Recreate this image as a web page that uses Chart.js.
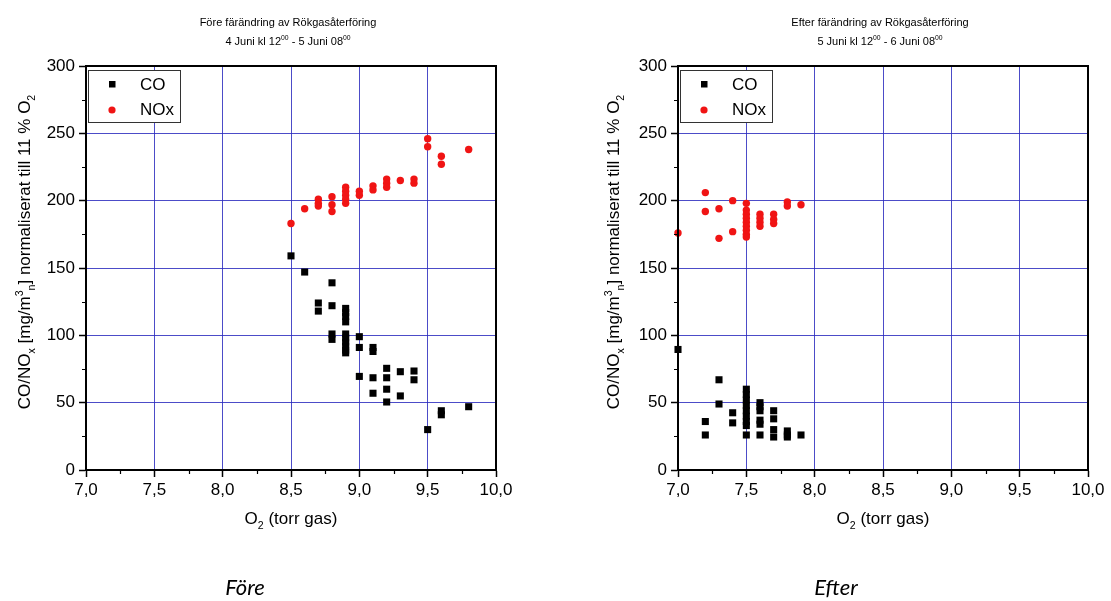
<!DOCTYPE html>
<html>
<head>
<meta charset="utf-8">
<script src="https://cdn.jsdelivr.net/npm/chart.js@4/dist/chart.umd.min.js"></script>
<style>
body{margin:0;background:#fff;width:1111px;height:601px;overflow:hidden;position:relative}
canvas{position:absolute;top:0}
#foreChart{left:0}
#efterChart{left:555px}
</style>
</head>
<body>
<canvas id="foreChart" width="555" height="601"></canvas>
<canvas id="efterChart" width="556" height="601"></canvas>
<script>

/* DATA : FÖRE */

const foreCoX=[8.5,8.6,8.7,8.7,8.8,8.8,8.8,8.8,8.9,8.9,8.9,8.9,8.9,8.9,8.9,8.9,8.9,8.9,9.0,9.0,9.0,9.1,9.1,9.1,9.1,9.2,9.2,9.2,9.2,9.3,9.3,9.4,9.4,9.5,9.6,9.6,9.8]
const foreCoY=[159,147,124,118,139,122,101,97,120,117,114,110,101,98,95,92,89,87,99,91,69.5,91,88,68.5,57,75.5,68.5,60,50.5,73,55,73.5,67,30,44,41,47]

const foreNoxX=[8.5,8.6,8.7,8.7,8.7,8.8,8.8,8.8,8.9,8.9,8.9,8.9,8.9,9.0,9.0,9.1,9.1,9.2,9.2,9.2,9.3,9.4,9.4,9.5,9.5,9.6,9.6,9.8]
const foreNoxY=[183,194,201,198,196,203,197,192,210,207,204,201,198,207,204,211,208,216,213,210,215,216,213,246,240,233,227,238]

/* DATA : EFTER */

const efterCoX=[7.0,7.2,7.2,7.3,7.3,7.4,7.4,7.5,7.5,7.5,7.5,7.5,7.5,7.5,7.5,7.5,7.6,7.6,7.6,7.6,7.6,7.6,7.7,7.7,7.7,7.7,7.8,7.8,7.8,7.9]
const efterCoY=[89.5,36,26,67,49,42.5,35,60,56,52,48,44,40,36,33,26,50,47,44,37,34,26,44,38,30,24.5,29,26,24.5,26]

const efterNoxX=[7.0,7.2,7.2,7.3,7.3,7.4,7.4,7.5,7.5,7.5,7.5,7.5,7.5,7.5,7.5,7.5,7.6,7.6,7.6,7.6,7.7,7.7,7.7,7.8,7.8,7.9]
const efterNoxY=[176,206,192,194,172,200,177,198,193,190,187,184,181,178,175,173,190,187,184,181,190,186,183,199,196,197]

/* TICKS */

const xTicks=[7.0,7.5,8.0,8.5,9.0,9.5,10.0]
const yTicks=[0,50,100,150,200,250,300]
const xMinor=[7.25,7.75,8.25,8.75,9.25,9.75]
const yMinor=[25,75,125,175,225,275]

const seriesLabels=["CO","NOx"]


const FONT="'Liberation Sans', Arial, sans-serif"
const GRID="rgba(45,45,190,0.85)"


/* rich text with sub / sup parts */

const yTitle=[{t:"CO/NO"},{t:"x",s:"sub"},{t:" [mg/m"},{t:"3",s:"sup"},{t:"n",s:"sub"},{t:"] normaliserat till 11 % O"},{t:"2",s:"sub"}]
const xTitle=[{t:"O"},{t:"2",s:"sub"},{t:" (torr gas)"}]


function partSize(p,size){
return p.s ? size*0.62 : size
}

function richWidth(ctx,parts,size){
let w=0
parts.forEach(p=>{
ctx.font=partSize(p,size)+"px "+FONT
w+=ctx.measureText(p.t).width
})
return w
}

function drawRich(ctx,parts,cx,y,size){
let x=cx-richWidth(ctx,parts,size)/2
ctx.textAlign="left"
ctx.textBaseline="alphabetic"
parts.forEach(p=>{
ctx.font=partSize(p,size)+"px "+FONT
let dy=p.s==="sub" ? size*0.28 : p.s==="sup" ? -size*0.42 : 0
ctx.fillText(p.t,x,y+dy)
x+=ctx.measureText(p.t).width
})
}


/* DECORATION PLUGIN : frame, minor ticks, legend, titles */

const decoPlugin={
id:"deco",
afterDraw(chart,args,o){

const ctx=chart.ctx
const a=chart.chartArea
const xs=chart.scales.x
const ys=chart.scales.y

ctx.save()

/* minor ticks */
ctx.strokeStyle="#000"
ctx.lineWidth=1.2
ctx.beginPath()
yMinor.forEach(v=>{
const py=Math.round(ys.getPixelForValue(v))+0.5
ctx.moveTo(a.left,py)
ctx.lineTo(a.left-4,py)
})
xMinor.forEach(v=>{
const px=Math.round(xs.getPixelForValue(v))+0.5
ctx.moveTo(px,a.bottom)
ctx.lineTo(px,a.bottom+4)
})
ctx.stroke()

/* frame */
ctx.lineWidth=2
ctx.strokeRect(a.left,a.top,a.right-a.left,a.bottom-a.top)

/* legend */
const lx=a.left+2, ly=a.top+4
ctx.fillStyle="#fff"
ctx.fillRect(lx,ly,92,52)
ctx.lineWidth=1
ctx.strokeStyle="#333"
ctx.strokeRect(lx+0.5,ly+0.5,92,52)

chart.data.datasets.forEach((ds,i)=>{
const my=ly+14+i*25
ctx.fillStyle=ds.backgroundColor
if(ds.pointStyle==="rect"){
ctx.fillRect(lx+21,my-3,6.5,6.5)
}else{
ctx.beginPath()
ctx.arc(lx+24,my+1,3.6,0,Math.PI*2)
ctx.fill()
}
ctx.fillStyle="#000"
ctx.font="17px "+FONT
ctx.textAlign="left"
ctx.textBaseline="middle"
ctx.fillText(ds.label,lx+52,my+1)
})

/* titles */
ctx.fillStyle="#000"
ctx.font="11px "+FONT
ctx.textAlign="center"
ctx.textBaseline="alphabetic"
ctx.fillText(o.title,o.titleX,26)
drawRich(ctx,o.subtitle,o.titleX,45,11)

/* axis titles */
const mid=(a.left+a.right)/2
drawRich(ctx,xTitle,mid,524,17)

ctx.save()
ctx.translate(o.yTitleX,252)
ctx.rotate(-Math.PI/2)
drawRich(ctx,yTitle,0,6,17)
ctx.restore()

/* caption */
ctx.font="italic 22px Lato, 'Open Sans', sans-serif"
ctx.textAlign="center"
ctx.fillText(o.caption,o.captionX,595)

ctx.restore()
}
}


/* CHART BUILDER */

function points(xs,ys){
return xs.map((x,i)=>({x:x,y:ys[i]}))
}

function makeChart(id,coX,coY,noxX,noxY,yWidth,padRight,deco){

return new Chart(document.getElementById(id),{

type:"scatter",

data:{
datasets:[{
label:seriesLabels[0],
data:points(coX,coY),
pointStyle:"rect",
pointRadius:5,
backgroundColor:"#000",
borderWidth:0,
clip:false
},{
label:seriesLabels[1],
data:points(noxX,noxY),
pointStyle:"circle",
pointRadius:3.7,
backgroundColor:"#f01414",
borderWidth:0,
clip:false
}]
},

options:{
responsive:false,
animation:false,
layout:{padding:{top:66,right:padRight,left:0,bottom:0}},
plugins:{
legend:{display:false},
tooltip:{enabled:false},
deco:deco
},
events:[],
scales:{
x:{
type:"linear",
min:7,max:10,
afterBuildTicks:s=>{s.ticks=xTicks.map(v=>({value:v}))},
afterFit:s=>{s.height=131},
ticks:{
color:"#000",
font:{family:FONT,size:17},
padding:3,
callback:v=>v.toFixed(1).replace(".",",")
},
grid:{color:GRID,lineWidth:1,tickColor:"#000",tickLength:7,tickWidth:1.5},
border:{color:"#000",width:2}
},
y:{
min:0,max:300,
afterBuildTicks:s=>{s.ticks=yTicks.map(v=>({value:v}))},
afterFit:s=>{s.width=yWidth},
ticks:{
color:"#000",
font:{family:FONT,size:17},
padding:4
},
grid:{color:GRID,lineWidth:1,tickColor:"#000",tickLength:7,tickWidth:1.5},
border:{color:"#000",width:2}
}
}
},

plugins:[decoPlugin]

})

}


makeChart("foreChart",foreCoX,foreCoY,foreNoxX,foreNoxY,86,59,{
title:"Före färändring av Rökgasåterföring",
subtitle:[{t:"4 Juni kl 12"},{t:"00",s:"sup"},{t:" - 5 Juni 08"},{t:"00",s:"sup"}],
titleX:288,
yTitleX:24,
caption:"Före",
captionX:245
})

makeChart("efterChart",efterCoX,efterCoY,efterNoxX,efterNoxY,123,23,{
title:"Efter färändring av Rökgasåterföring",
subtitle:[{t:"5 Juni kl 12"},{t:"00",s:"sup"},{t:" - 6 Juni 08"},{t:"00",s:"sup"}],
titleX:325,
yTitleX:58,
caption:"Efter",
captionX:281
})

</script>
</body>
</html>
